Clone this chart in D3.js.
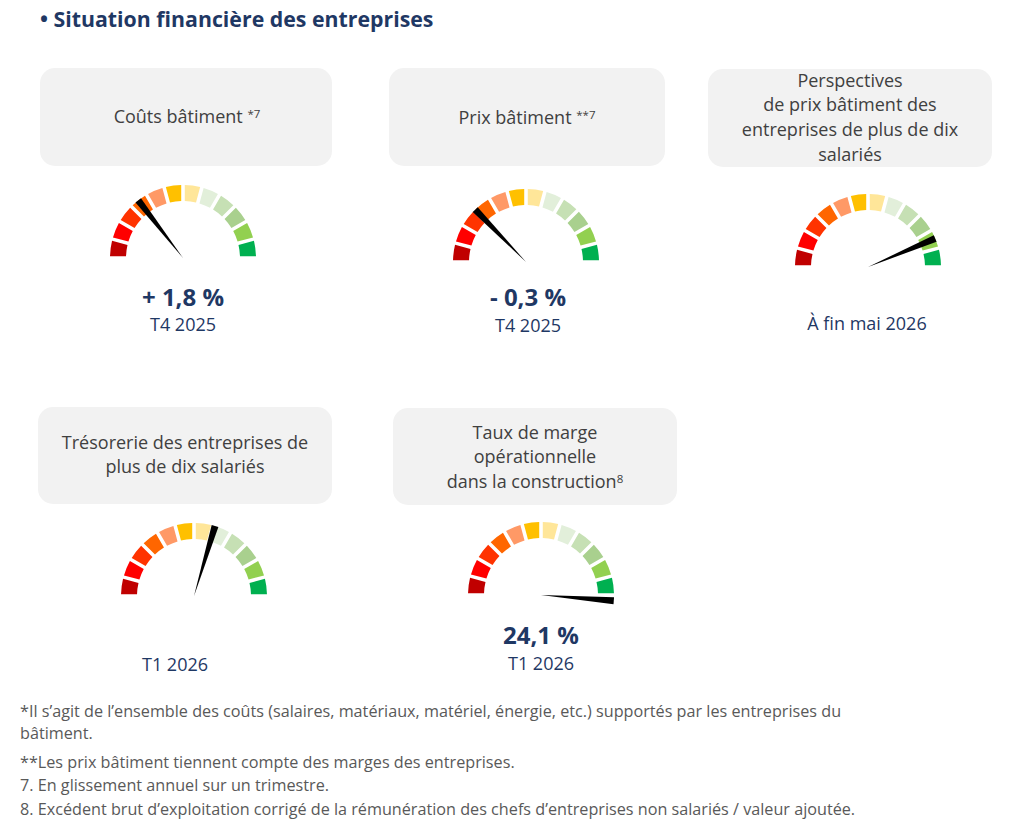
<!DOCTYPE html>
<html>
<head>
<meta charset="utf-8">
<script src="https://cdn.jsdelivr.net/npm/d3@7"></script>
<style>
  body { margin: 0; background: #fff; }
  svg { display: block; font-family: "Open Sans", Lato, sans-serif; }
</style>
</head>
<body>
<div id="chart"></div>
<script>
// gauge data
const gaugeTitles = [
  ["Coûts bâtiment"],
  ["Prix bâtiment"],
  ["Perspectives", "de prix bâtiment des", "entreprises de plus de dix", "salariés"],
  ["Trésorerie des entreprises de", "plus de dix salariés"],
  ["Taux de marge", "opérationnelle", "dans la construction"]
];
const titleSup = ["*7", "**7", "", "", "8"];
const gaugeValues = ["+ 1,8 %", "- 0,3 %", "", "", "24,1 %"];
const gaugePeriods = ["T4 2025", "T4 2025", "À fin mai 2026", "T1 2026", "T1 2026"];
// needle position, 0 = far left (red), 1 = far right (green)
const needlePos = [0.29, 0.255, 0.872, 0.593, 1.025];

const segmentColors = ["#C00000", "#FF0000", "#FF3300", "#FF6600", "#FF9966", "#FFC000",
                       "#FFE699", "#E2EFDA", "#C6E0B4", "#A9D08E", "#92D050", "#00B050"];

const footnotes = [
  "*Il s’agit de l’ensemble des coûts (salaires, matériaux, matériel, énergie, etc.) supportés par les entreprises du",
  "bâtiment.",
  "**Les prix bâtiment tiennent compte des marges des entreprises.",
  "7. En glissement annuel sur un trimestre.",
  "8. Excédent brut d’exploitation corrigé de la rémunération des chefs d’entreprises non salariés / valeur ajoutée."
];
const footnoteY = [711, 733, 762, 785, 809];

// layout of each panel (box + gauge centre)
const panels = [
  {box: [40, 68, 292, 98],  cx: 183, cy: 258, titleY: [117], valY: 298, perY: 325, tx: 187, px: 183},
  {box: [389, 68, 276, 98], cx: 526, cy: 262, titleY: [118], valY: 298, perY: 326, tx: 527, px: 528},
  {box: [708, 69, 284, 98], cx: 868, cy: 267, titleY: [81, 105, 130, 155], valY: 0, perY: 324, tx: 850, px: 867},
  {box: [38, 407, 294, 97], cx: 194, cy: 596, titleY: [443, 467], valY: 0, perY: 665, tx: 185, px: 175},
  {box: [393, 408, 284, 97], cx: 541, cy: 595, titleY: [433, 457, 482], valY: 636, perY: 664, tx: 535, px: 541}
];

const W = 1024, H = 831;
const navy = "#1F3864", grey = "#404040";
const outerR = 73, innerR = 57;

const svg = d3.select("#chart").append("svg")
  .attr("width", W).attr("height", H);

svg.append("text")
  .attr("x", 40).attr("y", 27)
  .style("font-size", "21.3px").style("font-weight", "bold")
  .style("fill", navy)
  .text("• Situation financière des entreprises");

// angle scale for the half circle
const angle = d3.scaleLinear().domain([0, 1]).range([-Math.PI / 2, Math.PI / 2]);
const seg = d3.scaleBand().domain(d3.range(segmentColors.length)).range([0, 1]);

const arc = d3.arc()
  .innerRadius(innerR).outerRadius(outerR)
  .padAngle(0.055).padRadius(65);

panels.forEach(function(p, i) {
  const g = svg.append("g");

  g.append("rect")
    .attr("x", p.box[0]).attr("y", p.box[1])
    .attr("width", p.box[2]).attr("height", p.box[3])
    .attr("rx", 15).attr("ry", 15)
    .style("fill", "#F2F2F2");

  const lines = gaugeTitles[i];
  lines.forEach(function(l, j) {
    const t = g.append("text")
      .attr("x", p.tx).attr("y", p.titleY[j])
      .attr("dy", "0.35em")
      .attr("text-anchor", "middle")
      .style("font-size", "18px")
      .style("fill", grey)
      .text(l);
    if (j === lines.length - 1 && titleSup[i]) {
      t.append("tspan").text(titleSup[i] === "8" ? "" : " ");
      t.append("tspan")
        .attr("dy", "-0.45em")
        .style("font-size", "11.5px")
        .text(titleSup[i]);
    }
  });

  // gauge segments
  const gauge = g.append("g").attr("transform", "translate(" + p.cx + "," + p.cy + ")");
  gauge.selectAll("path.seg")
    .data(segmentColors)
    .enter().append("path")
    .attr("class", "seg")
    .attr("d", function(c, k) {
      return arc({startAngle: angle(seg(k)), endAngle: angle(seg(k) + seg.bandwidth())});
    })
    .style("fill", function(c) { return c; });

  // needle: thin at the centre, wider at the rim
  const a = angle(needlePos[i]);
  const ux = Math.sin(a), uy = -Math.cos(a);
  const hw = 3.5;
  const tipX = ux * outerR, tipY = uy * outerR;
  gauge.append("path")
    .attr("d", "M0,0 L" + (tipX - uy * hw) + "," + (tipY + ux * hw) +
               " L" + (tipX + uy * hw) + "," + (tipY - ux * hw) + " Z")
    .style("fill", "#000");

  if (gaugeValues[i]) {
    g.append("text")
      .attr("x", p.px).attr("y", p.valY).attr("dy", "0.35em")
      .attr("text-anchor", "middle")
      .style("font-size", "24px").style("font-weight", "bold")
      .style("fill", navy)
      .text(gaugeValues[i]);
  }
  g.append("text")
    .attr("x", p.px).attr("y", p.perY).attr("dy", "0.35em")
    .attr("text-anchor", "middle")
    .style("font-size", "18px")
    .style("fill", navy)
    .text(gaugePeriods[i]);
});

svg.selectAll("text.foot")
  .data(footnotes)
  .enter().append("text")
  .attr("class", "foot")
  .attr("x", 20)
  .attr("y", function(d, i) { return footnoteY[i]; })
  .attr("dy", "0.35em")
  .style("font-size", "16.2px")
  .style("fill", "#595959")
  .text(function(d) { return d; });
</script>
</body>
</html>
